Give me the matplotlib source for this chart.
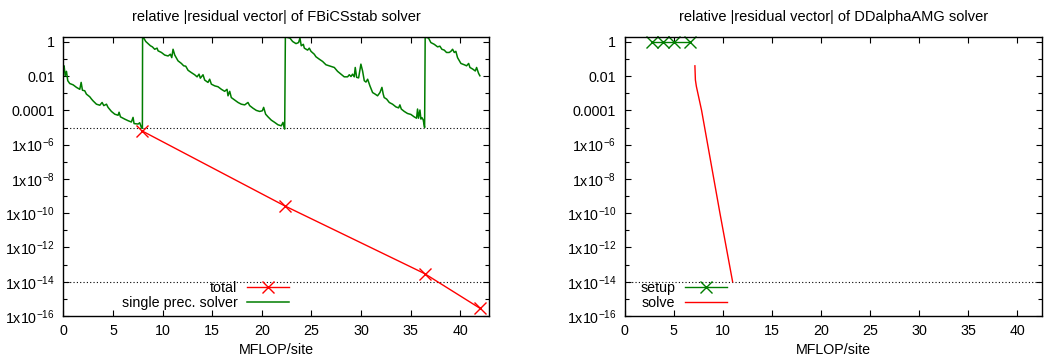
import matplotlib
matplotlib.use("Agg")
import matplotlib.pyplot as plt
from matplotlib.ticker import FixedLocator, NullFormatter

plt.rcParams['font.family'] = ['Liberation Sans', 'DejaVu Sans']
plt.rcParams['mathtext.fontset'] = 'custom'
plt.rcParams['mathtext.rm'] = 'Liberation Sans'
plt.rcParams['font.size'] = 10.3

# FBiCSstab: single precision inner solver residual (restarts at each outer step)
single_x = [0.02, 0.08, 0.19, 0.32, 0.45, 0.65, 0.99, 1.33, 1.66, 1.80, 1.93, 2.16, 2.33, 2.67,
            2.84, 3.00, 3.34, 3.68, 3.91, 4.08, 4.35, 4.51, 4.85, 5.19, 5.52, 5.62, 5.76, 6.19,
            6.53, 6.86, 7.03, 7.13, 7.54, 7.70, 7.87, 7.97, 7.99,
            8.11, 8.31, 8.54, 8.78, 8.98, 9.21, 9.45, 9.55, 9.89, 10.22, 10.56, 10.79, 10.93,
            11.06, 11.23, 11.56, 11.90, 12.13, 12.34, 12.57, 12.91, 13.24, 13.48, 13.68, 13.81,
            14.08, 14.25, 14.58, 14.75, 14.92, 15.26, 15.59, 15.93, 16.26, 16.50, 16.60, 16.77,
            16.93, 17.27, 17.61, 17.94, 18.28, 18.61, 18.78, 19.11, 19.45, 19.79, 20.06, 20.19,
            20.39, 20.63, 20.96, 21.30, 21.63, 21.97, 22.14, 22.24, 22.31, 22.38,
            22.44, 22.61, 22.84, 23.11, 23.45, 23.71, 23.85, 23.98, 24.19, 24.29, 24.62, 24.79,
            24.96, 25.29, 25.46, 25.79, 26.13, 26.47, 26.80, 27.14, 27.31, 27.64, 27.98, 28.31,
            28.65, 28.82, 28.99, 29.15, 29.32, 29.42, 29.56, 29.76, 29.99, 30.16, 30.33, 30.50,
            30.67, 30.90, 31.17, 31.43, 31.67, 31.91, 32.11, 32.24, 32.34, 32.58, 32.85, 33.18,
            33.52, 33.79, 33.92, 34.06, 34.36, 34.69, 35.03, 35.36, 35.60, 35.70, 35.80, 35.94,
            36.04, 36.14, 36.27, 36.41, 36.47,
            36.61, 36.81, 37.04, 37.38, 37.72, 37.95, 38.15, 38.39, 38.62, 38.89, 39.06, 39.23,
            39.40, 39.56, 39.73, 40.07, 40.41, 40.64, 40.85, 40.98, 41.25, 41.52, 41.65, 41.85,
            41.98]
single_res = [3.2e-2, 4.0e-2, 1.05e-2, 1.9e-2, 5.4e-3, 3.7e-3, 3.1e-3, 2.2e-3, 1.7e-3, 4.3e-3,
              1.5e-3, 1.4e-3, 8.9e-4, 6.2e-4, 4.6e-4, 3.6e-4, 2.3e-4, 2.0e-4, 2.9e-4, 1.9e-4,
              2.3e-4, 1.5e-4, 8.7e-5, 6.0e-5, 5.2e-5, 7.8e-5, 4.2e-5, 3.1e-5, 2.5e-5, 2.1e-5,
              3.9e-5, 1.7e-5, 1.6e-5, 1.9e-5, 1.0e-5, 9.0e-6, 2.5,
              1.66, 1.05, 0.79, 0.59, 0.51, 0.37, 0.43, 0.30, 0.24, 0.17, 0.15, 0.19, 0.12,
              0.37, 0.17, 7.8e-2, 5.5e-2, 4.0e-2, 3.8e-2, 2.2e-2, 1.6e-2, 1.2e-2, 9.1e-3, 1.3e-2,
              7.6e-3, 1.2e-2, 5.9e-3, 4.3e-3, 6.6e-3, 3.4e-3, 2.7e-3, 2.4e-3, 1.7e-3, 1.3e-3,
              1.7e-3, 7.1e-4, 1.3e-3, 5.6e-4, 4.0e-4, 2.9e-4, 2.3e-4, 2.1e-4, 2.9e-4, 1.9e-4,
              1.35e-4, 1.0e-4, 8.7e-5, 9.5e-5, 1.5e-4, 6.0e-5, 4.2e-5, 2.7e-5, 2.0e-5, 1.45e-5,
              1.26e-5, 2.0e-5, 1.1e-5, 8.1e-6, 2.5,
              1.9, 1.8, 1.66, 1.05, 0.79, 0.91, 1.66, 0.59, 0.72, 0.43, 0.33, 0.43,
              0.28, 0.19, 0.135, 9.8e-2, 7.2e-2, 4.6e-2, 4.0e-2, 3.5e-2, 3.2e-2, 1.9e-2, 1.3e-2,
              9.1e-3, 9.1e-3, 1.2e-2, 9.5e-3, 1.3e-2, 9.1e-3, 3.2e-2, 8.5e-3, 7.9e-3, 5.0e-2,
              2.0e-2, 5.4e-3, 4.5e-3, 6.6e-3, 2.7e-3, 1.1e-3, 8.9e-4, 7.1e-4, 1.1e-3, 2.2e-3,
              8.9e-4, 5.6e-4, 4.6e-4, 2.9e-4, 2.3e-4, 1.6e-4, 1.4e-4, 2.1e-4, 1.2e-4, 8.7e-5,
              6.6e-5, 5.8e-5, 4.2e-5, 3.5e-5, 1.2e-4, 3.5e-5, 1.05e-4, 3.1e-5, 3.8e-5, 2.8e-5,
              1.0e-5, 2.5,
              1.8, 1.66, 0.91, 0.72, 0.51, 0.56, 0.37, 0.33, 0.24, 0.24, 0.28, 0.37,
              0.24, 0.28, 0.12, 5.5e-2, 4.6e-2, 4.0e-2, 5.5e-2, 3.2e-2, 2.6e-2, 2.0e-2, 3.2e-2,
              1.45e-2, 1.05e-2]

# FBiCSstab: total (double precision) residual after each restart
total_x = [7.97, 22.30, 36.40, 42.00]
total_res = [6.2e-6, 2.7e-10, 3.0e-14, 2.8e-16]

# DDalphaAMG
setup_x = [2.75, 3.87, 5.05, 6.64]
setup_res = [1.0, 1.0, 1.0, 1.0]
solve_x = [7.15, 7.20, 7.30, 7.83, 9.70, 10.99]
solve_res = [4.0e-2, 6.0e-3, 2.5e-3, 1.0e-4, 1.0e-10, 1.0e-14]

major_y = [1e0, 1e-2, 1e-4, 1e-6, 1e-8, 1e-10, 1e-12, 1e-14, 1e-16]
major_lbl = ['1', '0.01', '0.0001', '1x10$^{-6}$', '1x10$^{-8}$', '1x10$^{-10}$',
             '1x10$^{-12}$', '1x10$^{-14}$', '1x10$^{-16}$']
minor_y = [1e-1, 1e-3, 1e-5, 1e-7, 1e-9, 1e-11, 1e-13, 1e-15]
x_ticks = [0, 5, 10, 15, 20, 25, 30, 35, 40]

GREEN = '#007d00'
RED = '#ff0000'

fig = plt.figure(figsize=(10.44, 3.62), dpi=100)
W, H = 1044., 362.
ax1 = fig.add_axes([63.3 / W, 1 - 316 / H, (489 - 63.3) / W, (316 - 36.7) / H])
ax2 = fig.add_axes([624.7 / W, 1 - 316 / H, (1042 - 624.7) / W, (316 - 36.7) / H])


def style(ax, xmax):
    ax.set_yscale('log')
    ax.set_ylim(1e-16, 2.0)
    ax.set_xlim(0, xmax)
    ax.yaxis.set_major_locator(FixedLocator(major_y))
    ax.set_yticklabels(major_lbl)
    ax.yaxis.set_minor_locator(FixedLocator(minor_y))
    ax.yaxis.set_minor_formatter(NullFormatter())
    ax.set_xticks(x_ticks)
    ax.tick_params(which='both', direction='in', top=True, right=True, width=0.8)
    ax.tick_params(which='major', length=4.5, pad=6)
    ax.tick_params(which='minor', length=2.6)
    for s in ax.spines.values():
        s.set_linewidth(1.0)
    ax.set_xlabel('MFLOP/site', labelpad=3)


style(ax1, 42.9)
ax1.axhline(1e-5, color='black', lw=0.8, ls=(0, (1, 2)))
ax1.axhline(1e-14, color='black', lw=0.8, ls=(0, (1, 2)))
ax1.plot(total_x, total_res, color=RED, lw=1.0, marker='x', ms=8, mew=1.0, label='total', zorder=3)
ax1.plot(single_x, single_res, color=GREEN, lw=1.1, label='single prec. solver')
ax1.set_title('relative |residual vector| of FBiCSstab solver', pad=11, fontsize=10.5)
ax1.legend(loc='lower right', bbox_to_anchor=(0.530, 0.02), frameon=False, markerfirst=False,
           borderpad=0, borderaxespad=0, handlelength=2.9, handletextpad=0.7, labelspacing=0.1)

style(ax2, 42.5)
ax2.axhline(1e-14, color='black', lw=0.8, ls=(0, (1, 2)))
ax2.plot(setup_x, setup_res, color=GREEN, lw=1.0, marker='x', ms=8, mew=1.0, label='setup',
         clip_on=False)
ax2.plot(solve_x, solve_res, color=RED, lw=1.0, label='solve')
ax2.set_title('relative |residual vector| of DDalphaAMG solver', pad=11, fontsize=10.5)
ax2.legend(loc='lower right', bbox_to_anchor=(0.245, 0.02), frameon=False, markerfirst=False,
           borderpad=0, borderaxespad=0, handlelength=2.9, handletextpad=0.7, labelspacing=0.1)

fig.savefig('out.png', dpi=100)
